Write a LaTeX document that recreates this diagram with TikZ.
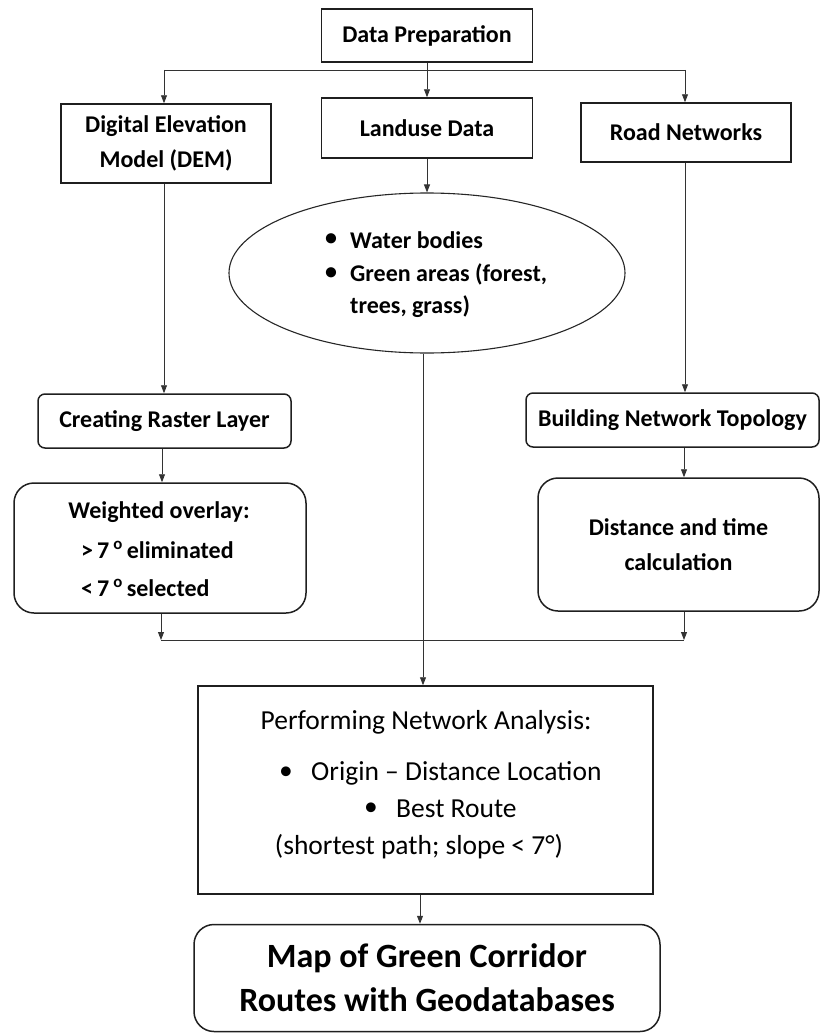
\documentclass[tikz,border=0pt]{standalone}
\usepackage{fontspec}
\setmainfont{Carlito}
\usetikzlibrary{arrows.meta,shapes.geometric}
\newcommand\fsz[2]{\fontsize{#1}{#2}\selectfont}
\begin{document}
\begin{tikzpicture}[x=1pt,y=-1pt,
  box/.style={draw=black!88,line width=1.5pt,inner sep=0pt,minimum width=#1},
  rbox/.style={box=#1,rounded corners=7pt},
  bbox/.style={box=#1,rounded corners=20pt},
  conn/.style={draw=black!80,line width=0.9pt},
  arr/.style={conn,-{Triangle[length=8pt,width=6pt]}},
  btxt/.style={font=\bfseries\fsz{24}{35},align=center,inner sep=0pt},
  ptxt/.style={font=\fsz{27.5}{30},inner sep=0pt},
]
\useasboundingbox (0,0) rectangle (821,1033);

% top row
\node[box=211pt,minimum height=53pt,btxt] (prep) at (427,35.5) {Data Preparation};
\node[box=210pt,minimum height=79pt,btxt] (dem) at (166,143.5) {Digital Elevation\\Model (DEM)};
\node[box=211pt,minimum height=60pt,btxt] (land) at (427,128) {Landuse Data};
\node[box=210pt,minimum height=59pt,btxt] (road) at (686,132.5) {Road Networks};

% ellipse
\node[draw=black!85,line width=1.1pt,ellipse,minimum width=396pt,minimum height=160pt,inner sep=0pt] (ell) at (427,273) {};
\node[btxt] (e1) at (331,240) {\textbullet};
\node[btxt,anchor=west] (w1) at (350,240) {Water bodies};
\node[btxt] (e2) at (331,274) {\textbullet};
\node[btxt,anchor=west] (w2) at (350,274) {Green areas (forest,};
\node[btxt,anchor=west] (w3) at (350,307) {trees, grass)};

% second row
\node[rbox=253pt,minimum height=54pt,btxt] (raster) at (164.5,421) {Creating Raster Layer};
\node[rbox=293pt,minimum height=54pt,btxt] (build) at (672.5,420) {Building Network Topology};

\node[bbox=292pt,minimum height=130pt] (weight) at (160,548) {};
\node[btxt] (wt1) at (159,512) {Weighted overlay:};
\node[btxt,anchor=west] (wt2) at (81,550) {>\,7\,\textsuperscript{o}\,eliminated};
\node[btxt,anchor=west] (wt3) at (81,588) {<\,7\,\textsuperscript{o}\,selected};

\node[bbox=281pt,minimum height=133pt,btxt] (dist) at (678.5,544.5) {Distance and time\\calculation};

% performing
\node[box=455pt,minimum height=208pt] (perf) at (425.5,790) {};
\node[ptxt] (p1) at (426,722) {Performing Network Analysis:};
\node[ptxt] (b1) at (286,773) {\textbullet};
\node[ptxt,anchor=west] (p2) at (311,773) {Origin -- Distance Location};
\node[ptxt] (b2) at (371,809) {\textbullet};
\node[ptxt,anchor=west] (p3) at (396,809) {Best Route};
\node[ptxt] (p4) at (419,847) {(shortest path; slope < 7°)};

% final
\node[bbox=466pt,minimum height=107pt,font=\bfseries\fsz{34}{44},align=center,inner sep=0pt] (final) at (427,978) {Map of Green Corridor\\Routes with Geodatabases};

% connectors
\coordinate (jl) at (164,70);
\coordinate (jr) at (685,70);
\draw[conn] (jl) -- (jr);
\draw[arr] (prep.south) -- (land.north);
\draw[arr] (jl) -- (jl |- dem.north);
\draw[arr] (jr) -- (jr |- road.north);
\draw[arr] (land.south) -- (ell.north);

\draw[arr] (dem.south -| jl) -- (raster.north -| jl);
\draw[arr] (road.south -| jr) -- (build.north -| jr);
\coordinate (xl) at (162,0);
\coordinate (xr) at (684,0);
\draw[arr] (raster.south -| xl) -- (weight.north -| xl);
\draw[arr] (build.south -| xr) -- (dist.north -| xr);

\coordinate (cl) at (161,640);
\coordinate (cr) at (684,640);
\draw[arr] (weight.south -| cl) -- (cl);
\draw[arr] (dist.south -| cr) -- (cr);
\draw[conn] (cl) -- (cr);

\coordinate (xm) at (423,0);
\draw[arr] (ell.south -| xm) -- (perf.north -| xm);
\coordinate (xf) at (420,0);
\draw[arr] (perf.south -| xf) -- (final.north -| xf);
\end{tikzpicture}
\end{document}
